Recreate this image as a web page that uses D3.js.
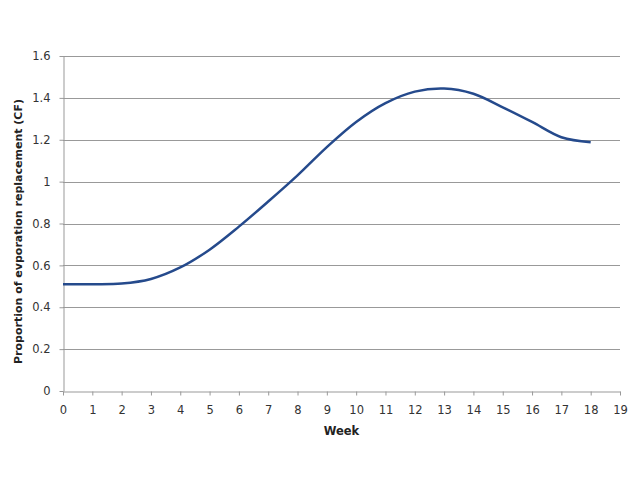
<!DOCTYPE html>
<html>
<head>
<meta charset="utf-8">
<script src="https://cdn.jsdelivr.net/npm/d3@7"></script>
<style>
  body { margin: 0; background: #fff; }
  text { font-family: "DejaVu Sans", Verdana, sans-serif; }
</style>
</head>
<body>
<div id="chart"></div>
<script>

// weeks and proportion of evaporation replacement (CF)
var weeks = [ 0, 1, 2, 3, 4, 5, 6, 7, 8, 9, 10, 11, 12, 13, 14, 15, 16, 17, 18 ];
var cfValues = [ 0.51, 0.51, 0.513, 0.535, 0.59, 0.675, 0.785, 0.905, 1.03, 1.165,
                 1.285, 1.375, 1.43, 1.445, 1.42, 1.355, 1.285, 1.212, 1.188 ];

var xTicks = d3.range( 0, 20 );
var yTicks = [ 0, 0.2, 0.4, 0.6, 0.8, 1, 1.2, 1.4, 1.6 ];

var width = 640,
    height = 480,
    margin = { top: 56, right: 20, bottom: 89, left: 63 };

var svg = d3.select('#chart').append('svg')
    .attr('width', width)
    .attr('height', height);

var x = d3.scaleLinear()
    .domain([ 0, 19 ])
    .range([ margin.left, width - margin.right ]);

var y = d3.scaleLinear()
    .domain([ 0, 1.6 ])
    .range([ height - margin.bottom, margin.top ]);

// gridlines
svg.append('g')
    .selectAll('line')
    .data( yTicks.filter( function ( d ) { return d > 0; } ) )
    .enter().append('line')
    .attr('x1', x( 0 ))
    .attr('x2', x( 19 ))
    .attr('y1', function ( d ) { return Math.round( y( d ) ) + 0.5; })
    .attr('y2', function ( d ) { return Math.round( y( d ) ) + 0.5; })
    .style('stroke', '#999')
    .style('stroke-width', 1);

// axes
var xAxis = svg.append('g')
    .attr('transform', 'translate(0,' + ( Math.round( y( 0 ) ) + 0.5 ) + ')')
    .call( d3.axisBottom( x ).tickValues( xTicks ).tickSize( 4 ).tickSizeOuter( 0 ).tickPadding( 10 ) );

var yAxis = svg.append('g')
    .attr('transform', 'translate(' + ( Math.round( x( 0 ) ) + 0.5 ) + ',0)')
    .call( d3.axisLeft( y ).tickValues( yTicks ).tickSize( 4 ).tickSizeOuter( 0 ).tickPadding( 9 )
        .tickFormat( function ( d ) { return d; } ) );

[ xAxis, yAxis ].forEach( function ( a ) {
    a.select('.domain').style('stroke', '#999');
    a.selectAll('.tick line').style('stroke', '#999');
    a.selectAll('.tick text')
        .style('font-size', '11.5px')
        .style('fill', '#333');
});

// axis titles
svg.append('text')
    .attr('x', ( x( 0 ) + x( 19 ) ) / 2)
    .attr('y', 435)
    .attr('text-anchor', 'middle')
    .style('font-size', '11.5px')
    .style('font-weight', 'bold')
    .style('fill', '#222')
    .text('Week');

svg.append('text')
    .attr('transform', 'translate(22,' + ( y( 0.8 ) + 8 ) + ') rotate(-90)')
    .attr('text-anchor', 'middle')
    .style('font-size', '11px')
    .style('font-weight', 'bold')
    .style('fill', '#222')
    .text('Proportion of evporation replacement (CF)');

// the curve
var line = d3.line()
    .x( function ( d, i ) { return x( weeks[ i ] ); })
    .y( function ( d ) { return y( d ); })
    .curve( d3.curveCatmullRom.alpha( 0.5 ) );

svg.append('path')
    .datum( cfValues )
    .attr('d', line)
    .style('fill', 'none')
    .style('stroke', '#254a8c')
    .style('stroke-width', 2.5);

</script>
</body>
</html>
